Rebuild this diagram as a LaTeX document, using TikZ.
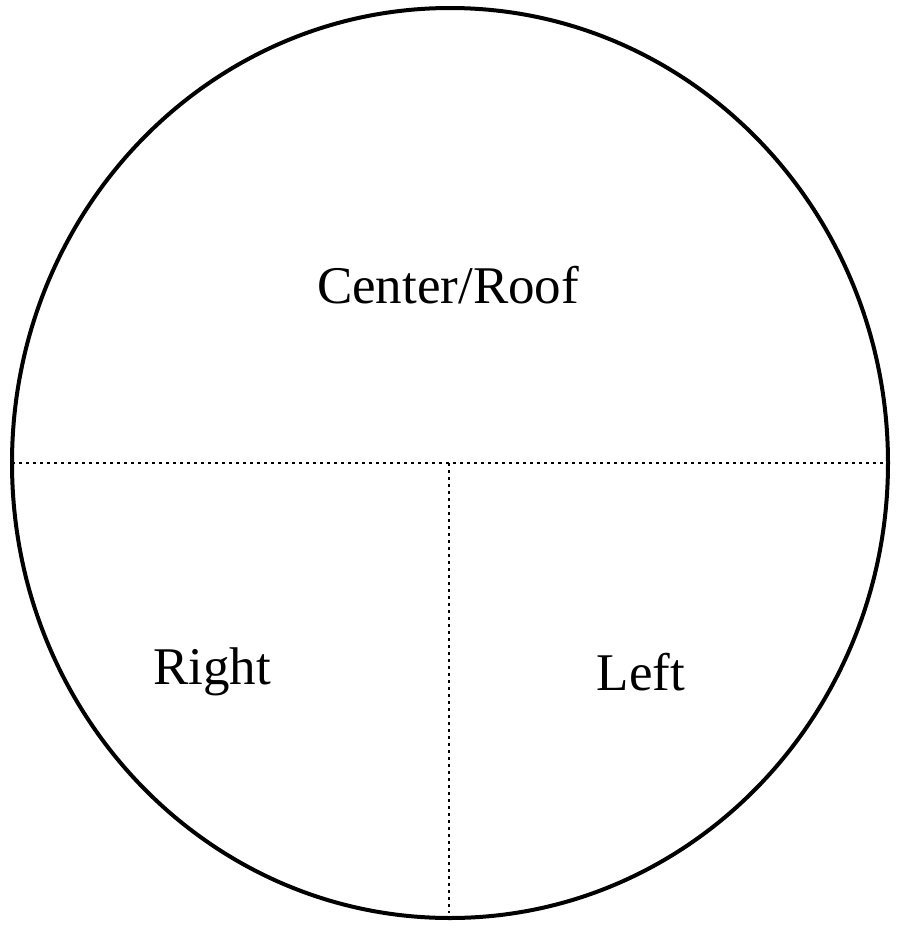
\documentclass[tikz,border=0pt]{standalone}
\usepackage{fontspec}
\setmainfont{Liberation Serif}
\begin{document}
\begin{tikzpicture}[x=1pt,y=-1pt,
  lbl/.style={font=\fontsize{53}{60}\selectfont},
  div/.style={line width=2.2pt,dash pattern=on 3pt off 4pt}]
\useasboundingbox (0,0) rectangle (899,932);
\draw[line width=4pt] (450,463) ellipse [x radius=438,y radius=455];
\coordinate (L) at (12,463);
\coordinate (R) at (888,463);
\coordinate (M) at (449,463);
\coordinate (B) at (449,913);
\draw[div] (L) -- (R);
\draw[div] (M) -- (B);
\node[lbl] (c) at (448,285) {Center/Roof};
\node[lbl] (r) at (212,672) {Right};
\node[lbl] (l) at (641,672) {Left};
\end{tikzpicture}
\end{document}
